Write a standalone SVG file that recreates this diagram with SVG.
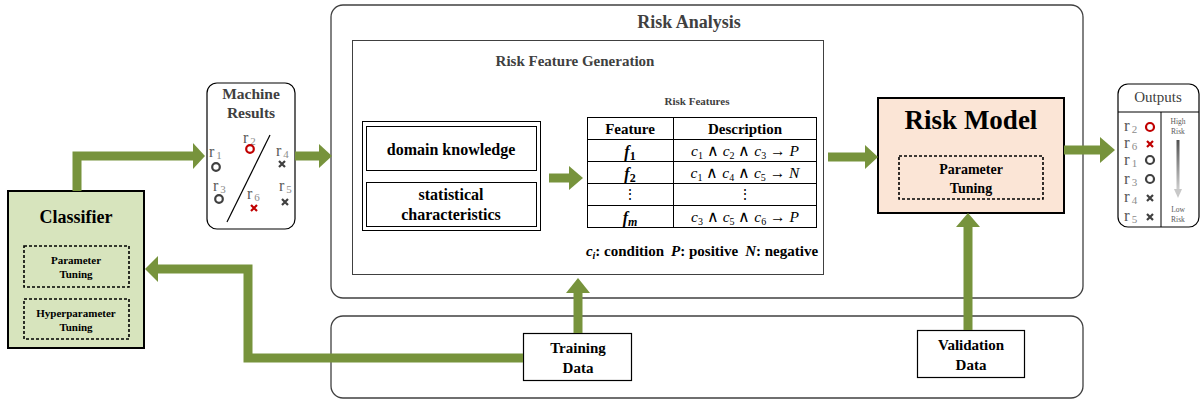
<svg xmlns="http://www.w3.org/2000/svg" width="1200" height="400" viewBox="0 0 1200 400">
<defs>
<linearGradient id="gr" x1="0" y1="0" x2="0" y2="1">
<stop offset="0" stop-color="#505050"/>
<stop offset="1" stop-color="#d0d0d0"/>
</linearGradient>
</defs>
<style>
text{font-family:"Liberation Serif","Times New Roman",serif;}
.b{font-weight:bold;}
.g{fill:#404040;}
.sh{fill:none;stroke:#77933c;stroke-width:9;}
.hd{fill:#77933c;}
.dash{fill:none;stroke:#000;stroke-width:1.6;stroke-dasharray:3,2;}
.thin{fill:#fff;stroke:#000;stroke-width:1;}
.oc{fill:none;stroke-width:2.2;}
.xm{stroke-width:2.2;}
.sub{fill:#8c8c8c;}
</style>
<rect width="1200" height="400" fill="#fff"/>

<g id="risk-analysis">
<rect x="331" y="5" width="752" height="293" rx="12" fill="#fff" stroke="#404040" stroke-width="1.3"/>
<text x="689" y="28" text-anchor="middle" class="b g" font-size="18">Risk Analysis</text>
</g>

<g id="data-area">
<rect x="331" y="316" width="752" height="82" rx="12" fill="#fff" stroke="#404040" stroke-width="1.3"/>
</g>

<g id="risk-feature-generation">
<rect x="352.5" y="40.5" width="471" height="234" fill="#fff" stroke="#404040" stroke-width="1"/>
<text x="575" y="66" text-anchor="middle" class="b g" font-size="15">Risk Feature Generation</text>
</g>

<g id="knowledge">
<rect x="362.5" y="121.5" width="178" height="109" class="thin"/>
<rect x="366.5" y="126.5" width="170" height="44" class="thin"/>
<rect x="366.5" y="182.5" width="170" height="44" class="thin"/>
<text x="451" y="155" text-anchor="middle" class="b" font-size="16">domain knowledge</text>
<text x="451" y="200" text-anchor="middle" class="b" font-size="16">statistical</text>
<text x="451" y="220" text-anchor="middle" class="b" font-size="16">characteristics</text>
</g>

<g id="risk-features">
<text x="697" y="105" text-anchor="middle" class="b g" font-size="11">Risk Features</text>
<rect x="587.5" y="117.5" width="229" height="110" class="thin"/>
<line x1="673.5" y1="117.5" x2="673.5" y2="227.5" stroke="#000"/>
<line x1="587.5" y1="139.5" x2="816.5" y2="139.5" stroke="#000"/>
<line x1="587.5" y1="161.5" x2="816.5" y2="161.5" stroke="#000"/>
<line x1="587.5" y1="183.5" x2="816.5" y2="183.5" stroke="#000"/>
<line x1="587.5" y1="205.5" x2="816.5" y2="205.5" stroke="#000"/>
<text x="630" y="134" text-anchor="middle" class="b" font-size="15">Feature</text>
<text x="745" y="134" text-anchor="middle" class="b" font-size="15">Description</text>
<text x="630" y="157" text-anchor="middle" class="b" font-size="16"><tspan font-style="italic">f</tspan><tspan font-size="12" dy="3">1</tspan></text>
<text x="630" y="179" text-anchor="middle" class="b" font-size="16"><tspan font-style="italic">f</tspan><tspan font-size="12" dy="3">2</tspan></text>
<text x="630" y="199" text-anchor="middle" font-size="14">⋮</text>
<text x="630" y="223" text-anchor="middle" class="b" font-style="italic" font-size="16">f<tspan font-size="12" dy="3">m</tspan></text>
<text x="745" y="156" text-anchor="middle" font-size="15.5"><tspan font-style="italic">c</tspan><tspan font-size="10" dy="3">1</tspan><tspan dy="-3"> ∧ </tspan><tspan font-style="italic">c</tspan><tspan font-size="10" dy="3">2</tspan><tspan dy="-3"> ∧ </tspan><tspan font-style="italic">c</tspan><tspan font-size="10" dy="3">3</tspan><tspan dy="-3"> → </tspan><tspan font-style="italic">P</tspan></text>
<text x="745" y="178" text-anchor="middle" font-size="15.5"><tspan font-style="italic">c</tspan><tspan font-size="10" dy="3">1</tspan><tspan dy="-3"> ∧ </tspan><tspan font-style="italic">c</tspan><tspan font-size="10" dy="3">4</tspan><tspan dy="-3"> ∧ </tspan><tspan font-style="italic">c</tspan><tspan font-size="10" dy="3">5</tspan><tspan dy="-3"> → </tspan><tspan font-style="italic">N</tspan></text>
<text x="745" y="199" text-anchor="middle" font-size="14">⋮</text>
<text x="745" y="222" text-anchor="middle" font-size="15.5"><tspan font-style="italic">c</tspan><tspan font-size="10" dy="3">3</tspan><tspan dy="-3"> ∧ </tspan><tspan font-style="italic">c</tspan><tspan font-size="10" dy="3">5</tspan><tspan dy="-3"> ∧ </tspan><tspan font-style="italic">c</tspan><tspan font-size="10" dy="3">6</tspan><tspan dy="-3"> → </tspan><tspan font-style="italic">P</tspan></text>
<text x="702" y="256" text-anchor="middle" class="b" font-size="15"><tspan font-style="italic">c</tspan><tspan font-style="italic" font-size="10" dy="3">i</tspan><tspan dy="-3">: condition</tspan><tspan font-style="italic" dx="7">P</tspan><tspan>: positive</tspan><tspan font-style="italic" dx="7">N</tspan><tspan>: negative</tspan></text>
</g>

<g id="classifier">
<rect x="8" y="191" width="136" height="157" fill="#d7e4bd" stroke="#000" stroke-width="2"/>
<text x="76" y="223" text-anchor="middle" class="b" font-size="18">Classifier</text>
<rect x="24" y="246" width="105" height="41" class="dash"/>
<text x="76" y="264" text-anchor="middle" class="b" font-size="11">Parameter</text>
<text x="76" y="278" text-anchor="middle" class="b" font-size="11">Tuning</text>
<rect x="24" y="299" width="105" height="40" class="dash"/>
<text x="76" y="317" text-anchor="middle" class="b" font-size="11">Hyperparameter</text>
<text x="76" y="331" text-anchor="middle" class="b" font-size="11">Tuning</text>
</g>

<g id="machine-results">
<rect x="207" y="83" width="88" height="146" rx="10" fill="#fff" stroke="#000" stroke-width="1.2"/>
<text x="251" y="99" text-anchor="middle" class="b g" font-size="15.5">Machine</text>
<text x="251" y="118" text-anchor="middle" class="b g" font-size="15.5">Results</text>
<line x1="227" y1="222" x2="270" y2="135" stroke="#000" stroke-width="1.2"/>
<g font-size="16" fill="#595959">
<text x="209" y="157">r<tspan class="sub" font-size="11" dx="2" dy="2">1</tspan></text>
<text x="243" y="143">r<tspan class="sub" font-size="11" dx="2" dy="2">2</tspan></text>
<text x="213" y="191">r<tspan class="sub" font-size="11" dx="2" dy="2">3</tspan></text>
<text x="276" y="156">r<tspan class="sub" font-size="11" dx="2" dy="2">4</tspan></text>
<text x="279" y="191">r<tspan class="sub" font-size="11" dx="2" dy="2">5</tspan></text>
<text x="247" y="199">r<tspan class="sub" font-size="11" dx="2" dy="2">6</tspan></text>
</g>
<circle cx="216" cy="167" r="3.8" class="oc" stroke="#404040"/>
<circle cx="250" cy="149" r="3.8" class="oc" stroke="#c00000"/>
<circle cx="219" cy="199" r="3.8" class="oc" stroke="#404040"/>
<path d="M279,161 l6,6 m0,-6 l-6,6" class="xm" stroke="#404040"/>
<path d="M282,199 l6,6 m0,-6 l-6,6" class="xm" stroke="#404040"/>
<path d="M251,205 l6,6 m0,-6 l-6,6" class="xm" stroke="#c00000"/>
</g>

<g id="risk-model">
<rect x="878" y="98" width="186" height="115" fill="#fbe5d6" stroke="#000" stroke-width="2"/>
<text x="971" y="129" text-anchor="middle" class="b" font-size="27">Risk Model</text>
<rect x="899" y="156" width="144" height="43" class="dash"/>
<text x="971" y="174" text-anchor="middle" class="b" font-size="14">Parameter</text>
<text x="971" y="193" text-anchor="middle" class="b" font-size="14">Tuning</text>
</g>

<g id="outputs">
<rect x="1118" y="84" width="81" height="143" rx="10" fill="#fff" stroke="#000" stroke-width="1.2"/>
<line x1="1118" y1="112" x2="1199" y2="112" stroke="#000" stroke-width="1"/>
<line x1="1161" y1="112" x2="1161" y2="227" stroke="#000" stroke-width="1"/>
<text x="1158" y="102" text-anchor="middle" class="g" font-size="15">Outputs</text>
<g font-size="17" fill="#595959">
<text x="1124" y="131">r<tspan class="sub" font-size="11" dx="2" dy="2">2</tspan></text>
<text x="1124" y="148">r<tspan class="sub" font-size="11" dx="2" dy="2">6</tspan></text>
<text x="1124" y="165">r<tspan class="sub" font-size="11" dx="2" dy="2">1</tspan></text>
<text x="1124" y="184">r<tspan class="sub" font-size="11" dx="2" dy="2">3</tspan></text>
<text x="1124" y="202">r<tspan class="sub" font-size="11" dx="2" dy="2">4</tspan></text>
<text x="1124" y="221">r<tspan class="sub" font-size="11" dx="2" dy="2">5</tspan></text>
</g>
<circle cx="1150" cy="127" r="4" class="oc" stroke="#c00000"/>
<path d="M1147,141 l6,6 m0,-6 l-6,6" class="xm" stroke="#c00000"/>
<circle cx="1150" cy="160" r="4" class="oc" stroke="#404040"/>
<circle cx="1150" cy="179" r="4" class="oc" stroke="#404040"/>
<path d="M1147,195 l6,6 m0,-6 l-6,6" class="xm" stroke="#404040"/>
<path d="M1147,214 l6,6 m0,-6 l-6,6" class="xm" stroke="#404040"/>
<text x="1178" y="124" text-anchor="middle" font-size="7.5" fill="#595959">High</text>
<text x="1178" y="134" text-anchor="middle" font-size="7.5" fill="#595959">Risk</text>
<rect x="1176.5" y="140" width="3" height="50" fill="url(#gr)"/>
<polygon points="1174,189 1182,189 1178,198" fill="#c8c8c8"/>
<text x="1178" y="212" text-anchor="middle" font-size="7.5" fill="#595959">Low</text>
<text x="1178" y="222" text-anchor="middle" font-size="7.5" fill="#595959">Risk</text>
</g>

<g id="training-data">
<rect x="523.5" y="333.5" width="108" height="47" fill="#fff" stroke="#000" stroke-width="1.2"/>
<text x="578" y="353" text-anchor="middle" class="b" font-size="15">Training</text>
<text x="578" y="373" text-anchor="middle" class="b" font-size="15">Data</text>
</g>

<g id="validation-data">
<rect x="917.5" y="330.5" width="107" height="47" fill="#fff" stroke="#000" stroke-width="1.2"/>
<text x="971" y="350" text-anchor="middle" class="b" font-size="15">Validation</text>
<text x="971" y="370" text-anchor="middle" class="b" font-size="15">Data</text>
</g>

<g id="connectors">
<path d="M77,191 V156 H194" class="sh"/>
<polygon points="193,143 205,156 193,169" class="hd"/>
<path d="M295,156 H320" class="sh"/>
<polygon points="319,144 332,156 319,168" class="hd"/>
<path d="M549,178 H570" class="sh"/>
<polygon points="569,166 583,178 569,190" class="hd"/>
<path d="M828,157 H866" class="sh"/>
<polygon points="865,145 878,157 865,169" class="hd"/>
<path d="M1064,150 H1101" class="sh"/>
<polygon points="1100,137 1115,150 1100,163" class="hd"/>
<path d="M578,333 V292" class="sh"/>
<polygon points="566,293 578,278 590,293" class="hd"/>
<path d="M968,330 V226" class="sh"/>
<polygon points="956,227 968,213 980,227" class="hd"/>
<path d="M523,358 H248 V269 H158" class="sh"/>
<polygon points="158,256 145,269 158,282" class="hd"/>
</g>
</svg>
